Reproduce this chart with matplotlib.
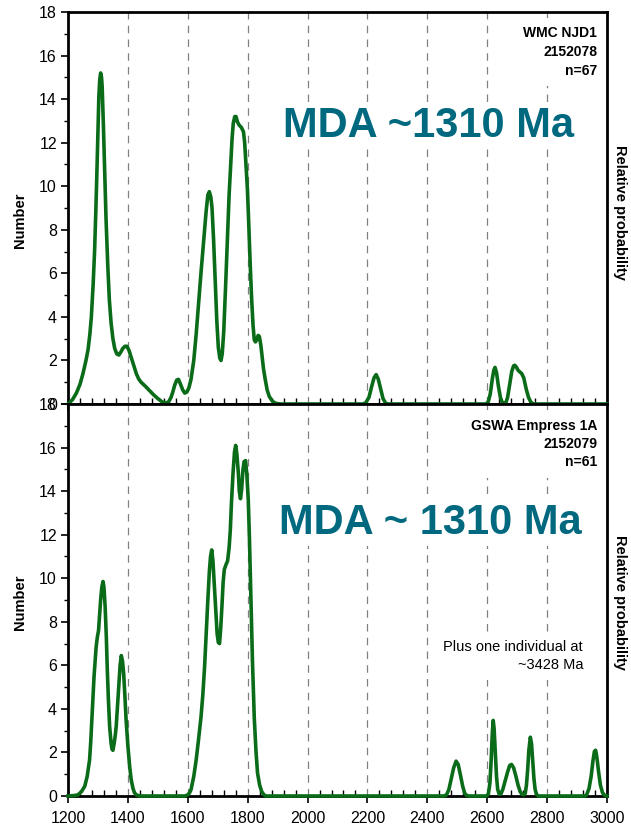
import matplotlib
matplotlib.use("Agg")
import matplotlib.pyplot as plt
from matplotlib.ticker import MultipleLocator

plt.rcParams['font.family'] = ['Liberation Sans', 'DejaVu Sans']

# ---- data ----
top_age = [1200, 1215, 1228, 1240, 1250, 1260, 1267, 1273, 1278, 1284, 1289, 1293, 1297, 1300,
           1303, 1306, 1309, 1312, 1314, 1318, 1322, 1327, 1333, 1338, 1344, 1350, 1356, 1363,
           1370, 1377, 1383, 1390, 1397, 1404, 1411, 1420, 1428, 1436, 1444, 1458, 1472, 1486,
           1500, 1514, 1528, 1536, 1544, 1550, 1556, 1563, 1569, 1576, 1583, 1590, 1597, 1604,
           1611, 1620, 1628, 1636, 1644, 1652, 1661, 1667, 1672, 1677, 1681, 1686, 1692, 1697,
           1702, 1707, 1711, 1715, 1720, 1726, 1733, 1738, 1744, 1748, 1752, 1757, 1761, 1766,
           1772, 1779, 1786, 1790, 1794, 1799, 1803, 1808, 1813, 1818, 1822, 1826, 1830, 1835,
           1839, 1844, 1848, 1853, 1859, 1865, 1872, 1883, 1894, 1910, 2185, 2194, 2205, 2215,
           2222, 2229, 2236, 2244, 2252, 2261, 2270, 2595, 2603, 2610, 2617, 2622, 2626, 2631,
           2637, 2644, 2650, 2656, 2662, 2668, 2675, 2682, 2688, 2692, 2697, 2703, 2709, 2715,
           2722, 2730, 2738, 2746, 2755, 3000]
top_val = [0, 0.2, 0.5, 0.9, 1.4, 2.0, 2.5, 3.2, 4.0, 5.5, 7.1, 8.9, 10.9, 12.6,
           14.1, 14.9, 15.2, 15.0, 14.6, 12.9, 10.9, 8.5, 6.3, 4.8, 3.7, 3.0, 2.55, 2.3,
           2.25, 2.4, 2.55, 2.65, 2.65, 2.45, 2.15, 1.75, 1.4, 1.15, 1.0, 0.82, 0.62, 0.42,
           0.25, 0.1, 0.05, 0.1, 0.3, 0.55, 0.85, 1.1, 1.13, 0.9, 0.65, 0.5, 0.55, 0.75,
           1.15, 2.0, 3.2, 4.6, 6.0, 7.3, 8.8, 9.6, 9.75, 9.5, 9.0, 7.6, 5.5, 3.8,
           2.6, 2.1, 2.0, 2.3, 3.3, 5.3, 7.8, 9.6, 11.2, 12.2, 12.9, 13.2, 13.2, 12.95,
           12.8, 12.7, 12.5, 12.0, 11.1, 9.9, 8.5, 6.6, 4.9, 3.6, 2.95, 2.85, 2.95, 3.15,
           3.1, 2.7, 2.2, 1.6, 1.1, 0.65, 0.35, 0.12, 0.03, 0, 0, 0.05, 0.3, 0.85,
           1.2, 1.35, 1.15, 0.7, 0.25, 0.03, 0, 0, 0.08, 0.45, 1.15, 1.55, 1.68, 1.45,
           0.85, 0.3, 0.08, 0.02, 0.05, 0.3, 0.9, 1.5, 1.75, 1.78, 1.7, 1.55, 1.47, 1.4,
           1.2, 0.7, 0.3, 0.08, 0, 0]

bot_age = [1200, 1220, 1233, 1245, 1256, 1264, 1272, 1276, 1280, 1284, 1287, 1291, 1294, 1298,
           1302, 1306, 1309, 1313, 1317, 1320, 1324, 1328, 1331, 1335, 1339, 1344, 1347, 1350,
           1354, 1358, 1361, 1366, 1370, 1374, 1378, 1382, 1386, 1390, 1394, 1400, 1406, 1411,
           1417, 1422, 1428, 1440, 1590, 1600, 1606, 1611, 1620, 1628, 1636, 1644, 1650, 1656,
           1662, 1667, 1672, 1676, 1680, 1684, 1689, 1694, 1698, 1702, 1706, 1710, 1714, 1718,
           1722, 1727, 1733, 1738, 1742, 1746, 1751, 1756, 1760, 1764, 1769, 1772, 1776, 1780,
           1784, 1788, 1793, 1797, 1802, 1806, 1811, 1816, 1822, 1828, 1833, 1840, 1847, 1854,
           1861, 2455, 2464, 2472, 2480, 2488, 2496, 2503, 2510, 2518, 2525, 2532, 2540, 2598,
           2604, 2609, 2613, 2617, 2620, 2623, 2627, 2631, 2635, 2640, 2646, 2652, 2660, 2668,
           2675, 2681, 2688, 2695, 2703, 2710, 2716, 2722, 2727, 2731, 2735, 2739, 2744, 2748,
           2752, 2756, 2760, 2765, 2772, 2925, 2932, 2940, 2947, 2953, 2958, 2962, 2966, 2972,
           2978, 2985, 2992, 3000]
bot_val = [0, 0.02, 0.05, 0.2, 0.45, 0.9, 1.65, 2.5, 3.6, 4.6, 5.5, 6.3, 6.85, 7.3,
           7.6, 8.4, 9.0, 9.6, 9.85, 9.6, 8.7, 7.3, 5.9, 4.4, 3.2, 2.4, 2.15, 2.1,
           2.4, 2.8, 3.2, 4.3, 5.2, 6.0, 6.45, 6.2, 5.6, 4.6, 3.5, 2.3, 1.35, 0.75,
           0.35, 0.15, 0.05, 0, 0, 0.05, 0.15, 0.3, 0.9, 1.65, 2.6, 3.6, 4.6, 5.9,
           7.6, 9.0, 10.3, 11.0, 11.3, 10.8, 9.6, 8.4, 7.45, 7.05, 7.0, 7.7, 8.7, 9.8,
           10.4, 10.6, 10.8, 11.4, 12.2, 13.5, 14.8, 15.8, 16.1, 15.7, 14.8, 14.0, 13.65, 14.1,
           14.95, 15.35, 15.4, 14.8, 13.6, 11.8, 9.0, 6.2, 3.6, 2.0, 1.05, 0.5, 0.2, 0.06,
           0, 0, 0.05, 0.3, 0.8, 1.3, 1.6, 1.45, 1.0, 0.45, 0.12, 0.02, 0, 0,
           0.1, 0.6, 1.6, 2.9, 3.47, 3.1, 2.0, 0.9, 0.3, 0.08, 0.1, 0.3, 0.7, 1.1,
           1.4, 1.45, 1.3, 0.95, 0.5, 0.2, 0.08, 0.05, 0.12, 0.5, 1.2, 2.1, 2.7, 2.4,
           1.6, 0.8, 0.3, 0.06, 0, 0, 0.05, 0.35, 0.9, 1.6, 2.05, 2.1, 1.8, 1.1,
           0.5, 0.15, 0.03, 0]

x_ticks = [1200, 1400, 1600, 1800, 2000, 2200, 2400, 2600, 2800, 3000]
grid_x = [1400, 1600, 1800, 2000, 2200, 2400, 2600, 2800]
y_ticks = [0, 2, 4, 6, 8, 10, 12, 14, 16, 18]

top_labels = ["WMC NJD1", "2152078", "n=67"]
bot_labels = ["GSWA Empress 1A", "2152079", "n=61"]
top_mda = "MDA ~1310 Ma"
bot_mda = "MDA ~ 1310 Ma"
note_lines = ["Plus one individual at", "~3428 Ma"]

GREEN = "#0a6b18"
TEAL = "#00687f"

W, H = 631, 831
fig = plt.figure(figsize=(W / 100, H / 100), dpi=100)
L, R = 68 / W, 607 / W
ax1 = fig.add_axes([L, 1 - 404 / H, R - L, 392 / H])
ax2 = fig.add_axes([L, 1 - 796 / H, R - L, 392 / H])


def style(ax, base):
    ax.set_xlim(1200, 3000)
    ax.set_ylim(0, 18)
    for xg in grid_x:
        ax.axvline(xg, color="#808080", lw=0.9, ls=(0, (6, 5)), zorder=1)
    ax.set_xticks(x_ticks)
    ax.xaxis.set_minor_locator(MultipleLocator(40))
    ax.set_yticks(y_ticks)
    ax.yaxis.set_minor_locator(MultipleLocator(1))
    ax.tick_params(axis="x", which="major", direction="out", length=5, width=1.2,
                   labelsize=11.5, pad=6)
    ax.tick_params(axis="x", which="minor", direction="in", length=4, width=1.0)
    ax.tick_params(axis="y", which="major", direction="out", length=5, width=1.2,
                   labelsize=11.5, pad=3)
    ax.tick_params(axis="y", which="minor", direction="out", length=3, width=1.0)
    for s in ax.spines.values():
        s.set_linewidth(2.0)
        s.set_color("black")
    ax.set_ylabel("Number", fontsize=10.5, fontweight="bold", va="center")
    ax.yaxis.set_label_coords((20 - 68) / 539, (base - (220 if base == 404 else 602)) / 392)
    axr = ax.twinx()
    axr.set_yticks([])
    axr.set_ylabel("Relative probability", fontsize=10.5, fontweight="bold",
                   rotation=-90, va="center")
    axr.yaxis.set_label_coords((620 - 68) / 539, (base - (212 if base == 404 else 602)) / 392)
    for s in axr.spines.values():
        s.set_visible(False)


style(ax1, 404)
style(ax2, 796)
ax1.tick_params(axis="x", labelbottom=False)

ax1.plot(top_age, top_val, color=GREEN, lw=2.6, solid_joinstyle="round", zorder=3, clip_on=False)
ax2.plot(bot_age, bot_val, color=GREEN, lw=2.6, solid_joinstyle="round", zorder=3, clip_on=False)

white = dict(facecolor="white", edgecolor="none", pad=6)

# sample labels
ax1.text(0.982, (404 - 52) / 392, "\n".join(top_labels), transform=ax1.transAxes,
         ha="right", va="center", multialignment="right", linespacing=1.45,
         fontsize=10, fontweight="bold", bbox=white, zorder=2.5)
ax2.text(0.982, (796 - 444) / 392, "\n".join(bot_labels), transform=ax2.transAxes,
         ha="right", va="center", multialignment="right", linespacing=1.4,
         fontsize=10, fontweight="bold", bbox=white, zorder=2.5)

mda_box = dict(facecolor="white", edgecolor="none", pad=2)
ax1.text((429 - 68) / 539, (404 - 126) / 392, top_mda, transform=ax1.transAxes,
         ha="center", va="center", fontsize=30, fontweight="bold", color=TEAL,
         bbox=mda_box, zorder=2.5)
ax2.text((430 - 68) / 539, (796 - 523) / 392, bot_mda, transform=ax2.transAxes,
         ha="center", va="center", fontsize=30, fontweight="bold", color=TEAL,
         bbox=mda_box, zorder=2.5)

ax2.text((583 - 68) / 539, (796 - 656) / 392, "\n".join(note_lines), transform=ax2.transAxes,
         ha="right", va="center", multialignment="right", linespacing=1.3,
         fontsize=10.5, bbox=white, zorder=2.5)

fig.savefig("out.png", dpi=100)
